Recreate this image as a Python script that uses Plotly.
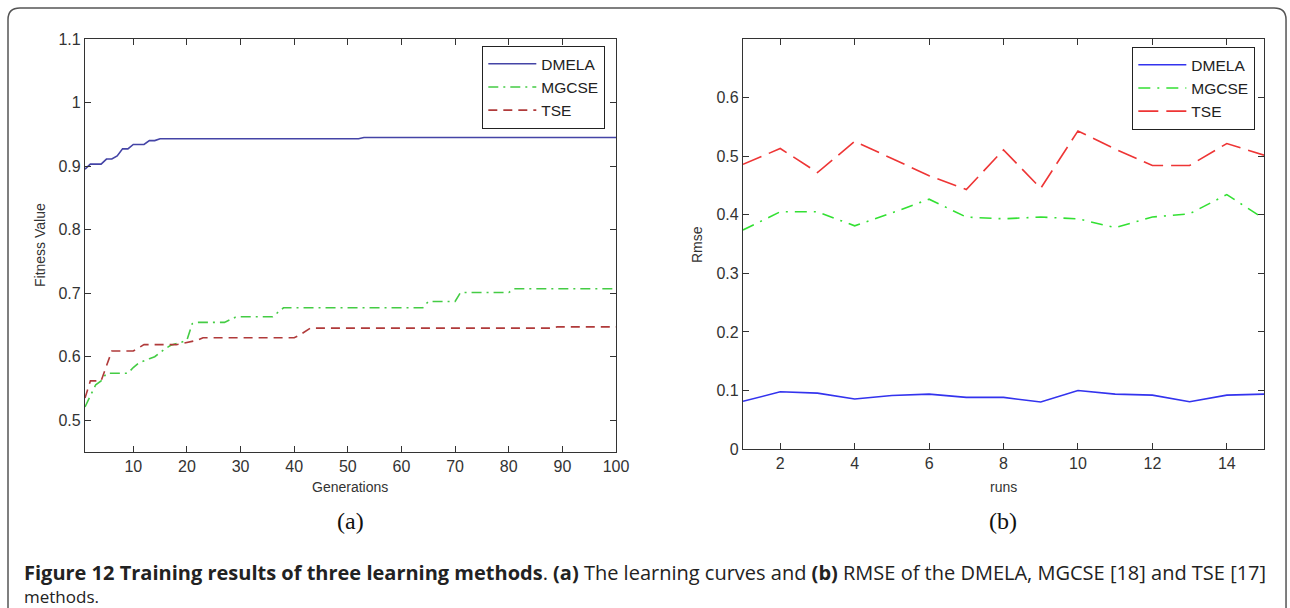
import plotly.graph_objects as go

# The photographed page comes out slightly shrunk and shifted; these factors map the
# reference's pixel positions into the figure's own coordinates.
SX, SY, OY = 0.99, 0.972, 8.1
W, H = 1303, 617

# ---------------- Panel (a): learning curves (breakpoints of step curves) ----------------
gen_dmela = [1, 2, 4, 5, 6, 7, 8, 9, 10, 12, 13, 14, 15, 52, 53, 100]
fit_dmela = [0.895, 0.903, 0.903, 0.911, 0.911, 0.916, 0.927, 0.927, 0.934, 0.934,
             0.940, 0.940, 0.943, 0.943, 0.945, 0.945]

gen_mgcse = [1, 2, 3, 4, 5, 9, 10, 11, 12, 13, 14, 15, 16, 17, 18, 19, 20, 21, 22, 27,
             29, 30, 36, 38, 64, 65, 70, 71, 80, 81, 100]
fit_mgcse = [0.521, 0.538, 0.556, 0.562, 0.574, 0.574, 0.583, 0.590, 0.594, 0.597,
             0.600, 0.607, 0.613, 0.618, 0.620, 0.623, 0.626, 0.652, 0.654, 0.654,
             0.662, 0.663, 0.663, 0.677, 0.677, 0.687, 0.687, 0.701, 0.701, 0.707, 0.707]

gen_tse = [1, 2, 4, 6, 10, 12, 18, 20, 22, 23, 40, 41, 43, 88, 89, 100]
fit_tse = [0.535, 0.562, 0.562, 0.609, 0.609, 0.619, 0.619, 0.622, 0.626, 0.630,
           0.630, 0.634, 0.645, 0.645, 0.647, 0.647]

gen_ticks = [10, 20, 30, 40, 50, 60, 70, 80, 90, 100]
fit_ticks = [0.5, 0.6, 0.7, 0.8, 0.9, 1.0, 1.1]
fit_ticktext = ["0.5", "0.6", "0.7", "0.8", "0.9", "1", "1.1"]

# ---------------- Panel (b): RMSE per run ----------------
runs = list(range(1, 16))
rmse_dmela = [0.0815, 0.0978, 0.0955, 0.0854, 0.0916, 0.0938, 0.0882, 0.0882,
              0.0803, 0.100, 0.0938, 0.0921, 0.0809, 0.0921, 0.0938]
rmse_mgcse = [0.374, 0.405, 0.405, 0.381, 0.403, 0.4265, 0.396, 0.393, 0.396,
              0.393, 0.378, 0.396, 0.4016, 0.4344, 0.393]
rmse_tse = [0.486, 0.513, 0.472, 0.525, 0.496, 0.4666, 0.443, 0.5107, 0.445,
            0.543, 0.512, 0.484, 0.484, 0.5215, 0.5017]

run_ticks = [2, 4, 6, 8, 10, 12, 14]
rmse_ticks = [0, 0.1, 0.2, 0.3, 0.4, 0.5, 0.6]
rmse_ticktext = ["0", "0.1", "0.2", "0.3", "0.4", "0.5", "0.6"]


def px(x):
    return (x / SX) / W


def py(y):
    return 1 - ((y - OY) / SY) / H


fig = go.Figure()

# panel (a) traces
fig.add_trace(go.Scatter(x=gen_dmela, y=fit_dmela, mode="lines", name="DMELA",
                         line=dict(color="#4444a6", width=1.6), xaxis="x", yaxis="y",
                         legend="legend"))
fig.add_trace(go.Scatter(x=gen_mgcse, y=fit_mgcse, mode="lines", name="MGCSE",
                         line=dict(color="#44cc44", width=1.6, dash="10px,5px,2px,5px"),
                         xaxis="x", yaxis="y", legend="legend"))
fig.add_trace(go.Scatter(x=gen_tse, y=fit_tse, mode="lines", name="TSE",
                         line=dict(color="#b03a3a", width=1.6, dash="9px,6px"),
                         xaxis="x", yaxis="y", legend="legend"))

# panel (b) traces
fig.add_trace(go.Scatter(x=runs, y=rmse_dmela, mode="lines", name="DMELA",
                         line=dict(color="#3333ee", width=1.6), xaxis="x2", yaxis="y2",
                         legend="legend2"))
fig.add_trace(go.Scatter(x=runs, y=rmse_mgcse, mode="lines", name="MGCSE",
                         line=dict(color="#33e033", width=1.6, dash="12px,7px,2px,7px"),
                         xaxis="x2", yaxis="y2", legend="legend2"))
fig.add_trace(go.Scatter(x=runs, y=rmse_tse, mode="lines", name="TSE",
                         line=dict(color="#ee3535", width=1.6, dash="20px,8px"),
                         xaxis="x2", yaxis="y2", legend="legend2"))

axis_common = dict(showline=True, linecolor="#333333", linewidth=1.3, mirror="ticks",
                   ticks="inside", ticklen=6, tickwidth=1.2, tickcolor="#333333",
                   showgrid=False, zeroline=False,
                   tickfont=dict(family="Liberation Sans, Arial, sans-serif", size=16,
                                 color="#333333"))

legend_common = dict(bgcolor="white", bordercolor="#222222", borderwidth=1.3,
                     font=dict(family="Liberation Sans, Arial, sans-serif", size=15.5,
                               color="#222222"),
                     xanchor="left", yanchor="top", tracegroupgap=0, itemwidth=48)

fig.update_layout(
    width=W, height=H,
    margin=dict(l=0, r=0, t=0, b=0),
    paper_bgcolor="white", plot_bgcolor="white",
    showlegend=True,
    xaxis=dict(domain=[px(85), px(616)], anchor="y", range=[1, 100],
               tickvals=gen_ticks, **axis_common),
    yaxis=dict(domain=[py(452), py(39)], anchor="x", range=[0.45, 1.1],
               tickvals=fit_ticks, ticktext=fit_ticktext, **axis_common),
    xaxis2=dict(domain=[px(743), px(1264)], anchor="y2", range=[1, 15],
                tickvals=run_ticks, **axis_common),
    yaxis2=dict(domain=[py(449), py(39)], anchor="x2", range=[0, 0.7],
                tickvals=rmse_ticks, ticktext=rmse_ticktext, **axis_common),
    legend=dict(x=px(482), y=py(46), **legend_common),
    legend2=dict(x=px(1132), y=py(47), **legend_common),
)

label_font = dict(family="Liberation Sans, Arial, sans-serif", size=14, color="#333333")
serif_font = dict(family="Liberation Serif, Times New Roman, serif", size=24, color="#111111")
cap_font = dict(family="Open Sans, sans-serif", size=20, color="#222222")
cap_font2 = dict(family="Open Sans, sans-serif", size=17, color="#222222")

annotations = [
    dict(text="Generations", x=px(350), y=py(487), font=label_font),
    dict(text="runs", x=px(1003), y=py(487), font=label_font),
    dict(text="Fitness Value", x=px(40), y=py(245), textangle=-90, font=label_font),
    dict(text="Rmse", x=px(697), y=py(245), textangle=-90, font=label_font),
    dict(text="(a)", x=px(350), y=py(521), font=serif_font),
    dict(text="(b)", x=px(1003), y=py(521), font=serif_font),
    dict(text="<b>Figure 12 Training results of three learning methods</b>. <b>(a)</b> The learning "
              "curves and <b>(b)</b> RMSE of the DMELA, MGCSE [18] and TSE [17]",
         x=px(22), y=py(572), xanchor="left", font=cap_font),
    dict(text="methods.", x=px(22), y=py(596), xanchor="left", font=cap_font2),
]
for a in annotations:
    a.setdefault("xanchor", "center")
    a.update(xref="paper", yref="paper", yanchor="middle", showarrow=False)
fig.update_layout(annotations=annotations)

# rounded outer frame (bottom edge runs past the visible area, as in the reference)
x0, y0, x1, y1 = px(8), py(8), px(1286), py(650)
rx, ry = 12 / W, 12 / H
path = (f"M {x0 + rx},{y0} L {x1 - rx},{y0} Q {x1},{y0} {x1},{y0 - ry} "
        f"L {x1},{y1 + ry} Q {x1},{y1} {x1 - rx},{y1} "
        f"L {x0 + rx},{y1} Q {x0},{y1} {x0},{y1 + ry} "
        f"L {x0},{y0 - ry} Q {x0},{y0} {x0 + rx},{y0} Z")
fig.add_shape(type="path", path=path, xref="paper", yref="paper",
              line=dict(color="#555555", width=1.5))

fig.write_html(
    "out.html",
    config={"displayModeBar": False},
    post_script=("var gd=document.getElementById('{plot_id}');"
                 "gd.style.position='fixed';gd.style.top='0px';gd.style.left='0px';"
                 "document.documentElement.style.margin='0';"
                 "document.body.style.margin='0';"
                 "document.documentElement.style.overflow='hidden';"
                 "document.body.style.overflow='hidden';"),
)
